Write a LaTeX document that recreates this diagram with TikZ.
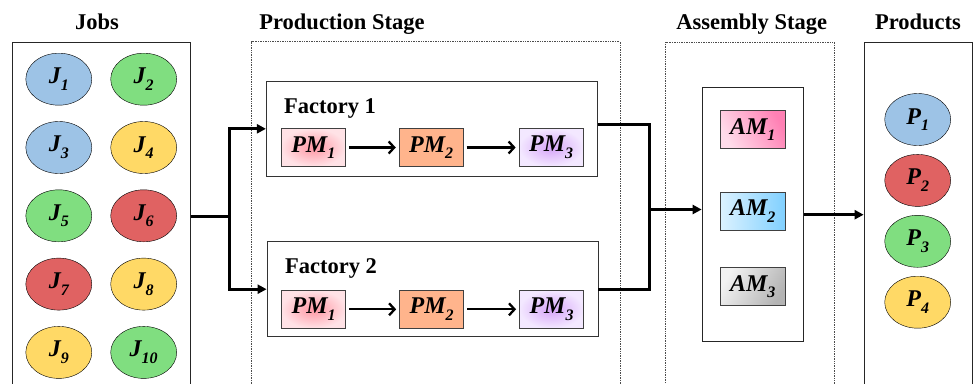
\documentclass[tikz,border=0pt]{standalone}
\usepackage{fontspec}
\setmainfont{Liberation Serif}
\usetikzlibrary{shapes.geometric,positioning,arrows.meta}

\definecolor{jblue}{HTML}{9DC3E6}
\definecolor{jgreen}{HTML}{80DE80}
\definecolor{jyellow}{HTML}{FFD966}
\definecolor{jred}{HTML}{E06262}
\definecolor{pmorange}{HTML}{FFB48C}
\definecolor{pmpinkin}{HTML}{FF97A4}
\definecolor{pmpinkout}{HTML}{FFE2E6}
\definecolor{pmvioin}{HTML}{D6A4F8}
\definecolor{pmvioout}{HTML}{F3E8FF}
\definecolor{amrosea}{HTML}{FFDCEA}
\definecolor{amroseb}{HTML}{FF80B4}
\definecolor{amskya}{HTML}{DCF2FF}
\definecolor{amskyb}{HTML}{80D0FF}
\definecolor{amgreya}{HTML}{F2F2F2}
\definecolor{amgreyb}{HTML}{B4B4B4}

\newcommand{\lab}[2]{\textbf{\textit{#1\raisebox{-0.28em}{\fontsize{16}{16}\selectfont #2}}}}

\begin{document}
\begin{tikzpicture}[
   x=1pt,y=-1pt,
   font=\bfseries\fontsize{22.5}{26}\selectfont,
   every matrix/.style={ampersand replacement=\&,inner sep=0pt},
   job/.style={ellipse,draw,thin,minimum width=66pt,minimum height=52pt,inner sep=0pt,font=\fontsize{24}{24}\selectfont},
   mach/.style={draw=black!75,line width=0.9pt,minimum width=64pt,minimum height=38pt,inner sep=0pt,font=\fontsize{24}{24}\selectfont},
   factory/.style={draw=black!80,line width=0.8pt,minimum width=331pt,minimum height=95pt,inner sep=0pt},
   stage/.style={draw=black!70,densely dotted,line width=0.7pt,inner sep=0pt},
   frame/.style={draw=black!85,line width=0.8pt,inner sep=0pt},
   title/.style={anchor=base},
   link/.style={line width=3pt},
   to/.style={-{Straight Barb[length=5.5pt,width=12pt]},line width=2.3pt,shorten >=3pt,shorten <=3pt},
   >={Triangle[length=9pt,width=9pt]}]
\useasboundingbox (0,0) rectangle (973,383);
\clip (0,0) rectangle (973,383);

% outer frames
\node[frame,minimum width=178pt,minimum height=348pt] (jobs) at (101.7,216.3) {};
\node[stage,minimum width=368.3pt,minimum height=360pt] (prodst) at (435.85,221.7) {};
\node[stage,minimum width=168.6pt,minimum height=360pt] (asmst) at (750,222.3) {};
\node[frame,minimum width=108.5pt,minimum height=346pt] (prod) at (918.3,215.3) {};

\node[title] (tjobs) at (97,29.5) {Jobs};
\node[title] (tprodst) at (342,29.5) {Production Stage};
\node[title] (tasmst) at (751.7,29.5) {Assembly Stage};
\node[title] (tprod) at (918,29.5) {Products};

% jobs
\matrix[column sep=18.5pt,row sep=15.9pt] (jobm) at (101.25,215.8) {
\node[job,fill=jblue] (J1) {\lab{J}{1}};\&\node[job,fill=jgreen] (J2) {\lab{J}{2}};\\
\node[job,fill=jblue] (J3) {\lab{J}{3}};\&\node[job,fill=jyellow] (J4) {\lab{J}{4}};\\
\node[job,fill=jgreen] (J5) {\lab{J}{5}};\&\node[job,fill=jred] (J6) {\lab{J}{6}};\\
\node[job,fill=jred] (J7) {\lab{J}{7}};\&\node[job,fill=jyellow] (J8) {\lab{J}{8}};\\
\node[job,fill=jyellow] (J9) {\lab{J}{9}};\&\node[job,fill=jgreen] (J10) {\lab{J}{10}};\\
};

% factories
\node[factory] (fac1) at (431.8,128.8) {};
\node[anchor=base west] (f1lab) at (280.5,113) {Factory 1};
\node[mach,shading=radial,inner color=pmpinkin,outer color=pmpinkout] (PM11) at (313.3,147.5) {\lab{PM}{1}};
\node[mach,fill=pmorange,right=53pt of PM11] (PM12) {\lab{PM}{2}};
\node[mach,shading=radial,inner color=pmvioin,outer color=pmvioout,right=55pt of PM12] (PM13) {\lab{PM}{3}};
\draw[to] (PM11) -- (PM12);
\draw[to] (PM12) -- (PM13);

\node[factory] (fac2) at (432.5,289.2) {};
\node[anchor=base west] (f2lab) at (281.5,273.5) {Factory 2};
\node[mach,shading=radial,inner color=pmpinkin,outer color=pmpinkout] (PM21) at (313.7,309.3) {\lab{PM}{1}};
\node[mach,fill=pmorange,right=53pt of PM21] (PM22) {\lab{PM}{2}};
\node[mach,shading=radial,inner color=pmvioin,outer color=pmvioout,right=55pt of PM22] (PM23) {\lab{PM}{3}};
\draw[to] (PM21) -- (PM22);
\draw[to] (PM22) -- (PM23);

% assembly
\node[frame,minimum width=101.3pt,minimum height=254pt] (asm) at (752.7,214.7) {};
\node[mach,minimum width=65pt,left color=amrosea,right color=amroseb,shading angle=120] (AM1) at (752.8,129.5) {\lab{AM}{1}};
\node[mach,minimum width=65pt,left color=amskya,right color=amskyb] (AM2) at (752.8,211.2) {\lab{AM}{2}};
\node[mach,minimum width=65pt,left color=amgreya,right color=amgreyb,shading angle=60] (AM3) at (752.8,286.7) {\lab{AM}{3}};

% products
\matrix[row sep=8.5pt] (prodm) at (917.7,210.85) {
\node[job,fill=jblue] (P1) {\lab{P}{1}};\\
\node[job,fill=jred] (P2) {\lab{P}{2}};\\
\node[job,fill=jgreen] (P3) {\lab{P}{3}};\\
\node[job,fill=jyellow] (P4) {\lab{P}{4}};\\
};

% flows
\coordinate (split) at (229,216.3);
\coordinate (merge) at (649,209.5);
\draw[link,->] (jobs.east) -- (split) |- (fac1.west);
\draw[link,->] (split) |- (fac2.west);
\draw[link] ([yshift=4.8pt]fac1.east) -| (merge);
\draw[link] (fac2.east) -| (merge);
\draw[link,->] (merge) -- (asm.west |- merge);
\draw[link,->] (asm.east) -- (prod.west |- asm.east);
\end{tikzpicture}
\end{document}
